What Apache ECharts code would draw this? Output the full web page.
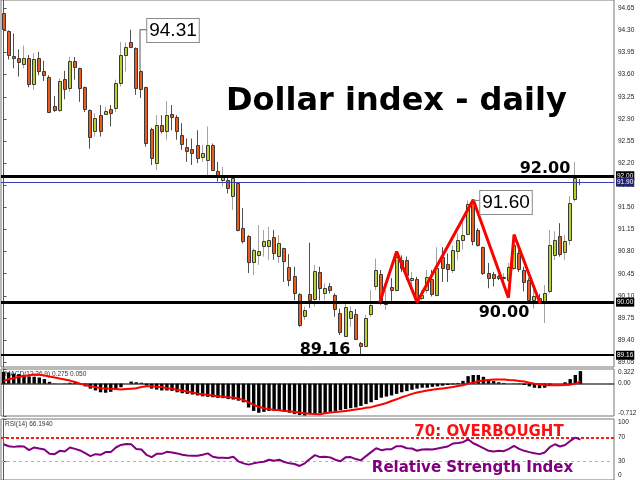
<!DOCTYPE html>
<html><head><meta charset="utf-8">
<script src="https://cdn.jsdelivr.net/npm/echarts@6/dist/echarts.min.js"></script>
<style>html,body{margin:0;padding:0;background:#fff}#c{width:640px;height:480px}</style>
</head><body><div id="c"></div>
<script>
// [open, close, low, high]
const CANDLES = [
[94.57,94.32,94.18,94.59],[94.29,93.91,93.84,94.30],[93.90,93.87,93.70,94.25],[93.86,93.80,93.57,94.00],
[93.77,93.87,93.70,94.06],[93.87,93.46,93.40,93.91],[93.44,93.84,93.36,93.94],[93.86,93.66,93.59,93.96],
[93.66,93.59,93.50,93.82],[93.56,93.00,92.99,93.59],[93.10,93.03,93.01,93.26],[93.04,93.50,93.01,93.54],
[93.53,93.37,93.21,93.66],[93.40,93.82,93.33,93.88],[93.82,93.73,93.52,93.88],[93.70,93.38,93.17,93.71],
[93.40,93.05,93.01,93.41],[93.04,92.61,92.43,93.05],[92.71,92.91,92.62,92.99],[92.96,92.71,92.62,93.12],
[92.99,93.03,92.96,93.09],[93.06,93.00,92.78,93.12],[93.08,93.47,93.01,93.52],[93.46,93.91,93.41,94.12],
[93.90,94.03,93.65,94.11],[94.12,94.04,94.02,94.31],[94.02,93.38,93.28,94.03],[93.66,93.38,93.23,93.67],
[93.40,92.51,92.46,93.41],[92.74,92.28,92.17,92.76],[92.20,92.80,92.09,92.96],[92.80,92.70,92.67,92.96],
[92.70,92.96,92.57,93.18],[92.97,92.93,92.72,93.12],[92.93,92.71,92.57,92.96],[92.65,92.51,92.41,92.83],
[92.46,92.40,92.22,92.59],[92.43,92.37,92.17,92.59],[92.49,92.29,92.20,92.72],[92.29,92.36,92.22,92.49],
[92.25,92.49,92.01,92.78],[92.49,92.09,92.09,92.51],[92.08,92.00,91.91,92.22],[91.92,91.99,91.83,92.14],
[91.93,91.80,91.72,91.99],[91.67,91.96,91.46,91.99],[91.88,91.14,91.12,91.89],[91.17,90.97,90.93,91.49],
[91.05,90.64,90.46,91.06],[90.64,90.83,90.43,90.85],[90.75,90.81,90.59,91.22],[90.88,90.96,90.72,91.14],
[90.89,90.99,90.67,91.19],[91.03,90.77,90.67,91.14],[90.72,90.93,90.62,91.06],[90.85,90.64,90.32,90.86],
[90.56,90.35,90.25,90.76],[90.41,90.14,90.03,90.56],[90.13,89.64,89.61,90.14],[89.78,89.87,89.72,89.93],
[90.13,90.03,89.91,90.94],[90.05,90.50,89.93,90.59],[90.48,90.23,90.03,90.56],[90.15,90.23,90.03,90.30],
[90.25,90.19,90.14,90.30],[90.12,89.90,89.77,90.14],[89.83,89.53,89.48,89.90],[89.46,89.92,89.45,89.98],
[89.75,89.86,89.61,89.93],[89.82,89.43,89.40,89.89],[89.35,89.31,89.16,89.37],[89.31,89.75,89.30,89.80],
[89.82,89.96,89.77,90.19],[90.25,90.51,90.19,90.69],[90.45,90.01,89.96,90.51],[89.98,90.01,89.88,90.19],
[90.24,90.19,90.01,90.38],[90.18,90.71,90.17,90.77],[90.66,90.54,90.48,90.74],[90.66,90.43,90.35,90.72],
[90.36,90.39,90.19,90.48],[90.36,90.03,90.01,90.40],[90.06,90.11,90.03,90.19],[90.19,90.40,90.14,90.51],
[90.36,90.13,90.09,90.51],[90.11,90.54,90.09,90.87],[90.72,90.54,90.32,90.87],[90.60,90.52,90.32,90.77],
[90.52,90.83,90.46,90.90],[90.80,90.98,90.67,91.09],[90.98,91.06,90.83,91.30],[91.09,91.56,91.06,91.61],
[91.59,90.98,90.90,91.61],[91.14,90.90,90.88,91.17],[90.87,90.46,90.43,90.88],[90.46,90.38,90.22,90.62],
[90.44,90.38,90.25,90.48],[90.41,90.38,90.35,90.43],[90.38,90.40,90.27,90.46],[90.35,90.56,90.32,90.62],
[90.54,90.90,90.51,90.98],[90.77,90.51,90.48,90.83],[90.51,90.32,90.17,90.56],[90.35,90.03,90.01,90.38],
[90.03,90.09,89.90,90.22],[90.07,90.03,89.97,90.13],[90.01,90.14,89.67,90.27],[90.17,90.90,90.14,91.14],
[90.75,90.98,90.67,91.12],[91.05,90.77,90.72,91.25],[90.78,90.96,90.67,91.06],[90.98,91.57,90.90,91.68],
[91.63,91.96,91.59,92.22],[91.90,91.90,91.85,91.95]
];
const MACD_HIST = [
0.26,0.245,0.22,0.21,0.185,0.16,0.15,0.135,0.1,0.04,0.005,0.0,0.005,0.02,0.02,-0.01,-0.06,-0.11,-0.15,-0.19,
-0.2,-0.18,-0.14,-0.08,0.0,0.045,0.03,0.02,-0.04,-0.11,-0.13,-0.15,-0.15,-0.16,-0.19,-0.21,-0.225,-0.24,-0.26,-0.28,
-0.29,-0.3,-0.315,-0.32,-0.34,-0.35,-0.375,-0.41,-0.525,-0.6,-0.64,-0.62,-0.6,-0.6,-0.6,-0.62,-0.64,-0.67,-0.69,-0.7,
-0.67,-0.66,-0.65,-0.65,-0.62,-0.6,-0.585,-0.56,-0.54,-0.525,-0.49,-0.45,-0.41,-0.36,-0.31,-0.285,-0.26,-0.225,-0.19,-0.165,
-0.135,-0.11,-0.09,-0.09,-0.07,-0.06,-0.045,-0.03,-0.015,0.015,0.06,0.165,0.19,0.19,0.15,0.1,0.06,0.03,0.015,0.0,
-0.005,-0.01,-0.03,-0.06,-0.09,-0.1,-0.09,-0.04,0.0,0.0,0.03,0.1,0.19,0.275
];
const MACD_SIGNAL = [
0.06,0.097,0.12,0.15,0.17,0.187,0.2,0.195,0.18,0.157,0.135,0.112,0.09,0.067,0.036,0.0,-0.03,-0.06,-0.076,-0.1,
-0.105,-0.11,-0.12,-0.13,-0.12,-0.11,-0.1,-0.076,-0.06,-0.06,-0.07,-0.076,-0.1,-0.11,-0.135,-0.157,-0.173,-0.195,-0.22,-0.233,
-0.248,-0.263,-0.278,-0.285,-0.3,-0.307,-0.33,-0.36,-0.413,-0.465,-0.51,-0.54,-0.562,-0.577,-0.585,-0.6,-0.607,-0.622,-0.637,-0.652,
-0.66,-0.667,-0.674,-0.652,-0.637,-0.622,-0.615,-0.6,-0.585,-0.57,-0.555,-0.532,-0.517,-0.487,-0.457,-0.427,-0.382,-0.345,-0.3,-0.263,
-0.225,-0.195,-0.173,-0.15,-0.135,-0.12,-0.105,-0.09,-0.076,-0.052,-0.037,0.0,0.022,0.052,0.067,0.082,0.09,0.09,0.09,0.082,
0.075,0.06,0.045,0.022,0.0,-0.015,-0.03,-0.037,-0.037,-0.037,-0.03,-0.022,0.0,0.05
];
const RSI = [
58.6,55.4,54.3,55.4,54.9,48.9,53.3,51.6,50.0,42.9,42.4,47.8,46.8,53.3,51.0,48.4,44.0,39.2,42.4,41.3,
45.7,45.7,53.3,57.5,59.1,58.6,51.0,50.0,41.3,37.6,42.9,42.9,46.2,45.2,43.6,41.3,40.3,39.7,39.7,41.3,
43.6,38.1,36.4,36.4,36.0,38.1,30.6,27.3,25.2,27.3,28.9,29.9,33.2,31.6,33.2,29.5,27.3,26.2,23.0,27.3,
34.3,40.8,37.6,38.1,37.1,33.2,30.6,37.1,37.6,34.3,32.2,39.2,45.7,52.1,48.9,50.5,50.5,55.4,55.4,52.1,
51.6,48.0,50.0,50.5,50.0,51.6,53.3,54.9,59.8,60.7,61.9,66.7,60.2,56.5,52.1,47.8,46.8,47.8,47.3,51.0,
55.9,51.0,47.8,45.7,44.0,42.4,45.2,53.8,58.6,54.9,57.5,64.0,69.5,66.2
];
const PRICE_TICKS = [89.05,89.40,89.75,90.10,90.45,90.80,91.15,91.50,91.85,92.20,92.55,92.90,93.25,93.60,93.95,94.30,94.65];
const MACD_TICKS = [-0.712, 0, 0.322];
const RSI_TICKS = [0, 30, 70, 100];
const SUPPORT_LEVELS = [92.00, 90.00];
const LOW_LEVEL = 89.16;
const CURRENT_PRICE = 91.90;
const RSI_OVERBOUGHT = 70, RSI_OVERSOLD = 30;
// zigzag pattern (bar index, price)
const ZIGZAG = [[73.7,90.00],[77.0,90.80],[81.0,90.00],[92.0,91.62],[98.9,90.07],[100.0,91.07],[105.1,89.98]];
const CALLOUT_HIGH = [[26.73,93.67],[26.73,94.31],[28.16,94.31]];
const CALLOUT_MID = [[92.0,91.61],[93.5,91.61]];

const X_MIN = -0.5, X_MAX = 119.58;
const FONT_AX = 'Liberation Sans';
const BOLD = 'DejaVu Sans';

function renderCandle(params, api) {
  const i = api.value(0), o = api.value(1), c = api.value(2), l = api.value(3), h = api.value(4);
  const po = api.coord([i, o]), pc = api.coord([i, c]), pl = api.coord([i, l]), ph = api.coord([i, h]);
  const cx = Math.round(po[0]);
  const up = c > o, doji = c === o;
  const top = Math.min(po[1], pc[1]), bot = Math.max(po[1], pc[1]);
  const children = [{
    type: 'line',
    shape: {x1: cx - 0.5, y1: ph[1], x2: cx - 0.5, y2: pl[1]},
    style: {stroke: up ? '#a3a3a3' : '#505050', lineWidth: 1}
  }];
  if (doji) {
    children.push({type: 'line', shape: {x1: cx - 2, y1: Math.round(top) + 0.5, x2: cx + 2, y2: Math.round(top) + 0.5},
      style: {stroke: '#505050', lineWidth: 1}});
  } else {
    children.push({type: 'rect', shape: {x: cx - 1.5, y: Math.round(top) + 0.5, width: 3, height: Math.max(Math.round(bot - top), 1)},
      style: {fill: up ? '#b8d02c' : '#ee5a1a', stroke: '#3a3a3a', lineWidth: 1}});
  }
  return {type: 'group', children};
}

function edgeFmt(min, max, fmt) {
  return function (v) {
    if (Math.abs(v - max) < 1e-9) return '{t|' + fmt(v) + '}';
    if (Math.abs(v - min) < 1e-9) return '{b|' + fmt(v) + '}';
    return fmt(v);
  };
}

const chart = echarts.init(document.getElementById('c'), null, {renderer: 'canvas'});
const axLabel = {fontSize: 6.5, fontFamily: FONT_AX, color: '#222', margin: 4};
const hiddenX = (gi) => ({type: 'value', gridIndex: gi, min: X_MIN, max: X_MAX, show: false});

chart.setOption({
  animation: false,
  backgroundColor: '#fff',
  grid: [
    {left: 1, top: 0, width: 613, height: 367, show: true, borderColor: '#777', borderWidth: 1},
    {left: 1, top: 369, width: 613, height: 47, show: true, borderColor: '#777', borderWidth: 1},
    {left: 1, top: 419, width: 613, height: 63, show: true, borderColor: '#777', borderWidth: 1}
  ],
  xAxis: [hiddenX(0), hiddenX(1), hiddenX(2)],
  yAxis: [
    {type: 'value', gridIndex: 0, position: 'right', min: 88.974, max: 94.781,
      axisLine: {show: true, lineStyle: {color: '#555'}},
      axisTick: {show: true, length: 3, customValues: PRICE_TICKS, lineStyle: {color: '#555'}},
      axisLabel: Object.assign({}, axLabel, {customValues: PRICE_TICKS, formatter: v => v.toFixed(2)}),
      splitLine: {show: false}},
    {type: 'value', gridIndex: 1, position: 'right', min: MACD_TICKS[0], max: MACD_TICKS[2],
      axisLine: {show: true, lineStyle: {color: '#555'}},
      axisTick: {show: true, length: 3, customValues: MACD_TICKS, lineStyle: {color: '#555'}},
      axisLabel: Object.assign({}, axLabel, {customValues: MACD_TICKS,
        formatter: edgeFmt(MACD_TICKS[0], MACD_TICKS[2], v => v === 0 ? '0.00' : String(v)),
        rich: {t: {padding: [7, 0, 0, 0]}, b: {padding: [0, 0, 5, 0]}}}),
      splitLine: {show: false}},
    {type: 'value', gridIndex: 2, position: 'right', min: 0, max: 100,
      axisLine: {show: true, lineStyle: {color: '#555'}},
      axisTick: {show: true, length: 3, customValues: RSI_TICKS, lineStyle: {color: '#555'}},
      axisLabel: Object.assign({}, axLabel, {customValues: RSI_TICKS,
        formatter: edgeFmt(0, 100, v => String(v)),
        rich: {t: {padding: [6, 0, 0, 0]}, b: {padding: [0, 0, 9, 0]}}}),
      splitLine: {show: false}}
  ],
  series: [
    {type: 'custom', name: 'price', xAxisIndex: 0, yAxisIndex: 0, z: 2,
      data: CANDLES.map((c, i) => [i, c[0], c[1], c[2], c[3]]),
      encode: {x: 0, y: [1, 2, 3, 4]},
      renderItem: renderCandle,
      markLine: {
        silent: true, symbol: 'none', z: 5,
        data: [
          ...SUPPORT_LEVELS.map(v => ({yAxis: v, lineStyle: {color: '#000', width: 3, type: 'solid'},
            label: {backgroundColor: '#000'}})),
          {yAxis: LOW_LEVEL, lineStyle: {color: '#000', width: 2, type: 'solid'}, label: {backgroundColor: '#000'}},
          {yAxis: CURRENT_PRICE, lineStyle: {color: '#3a3ab4', width: 1, type: 'solid'}, label: {backgroundColor: '#22226e'}}
        ],
        label: {show: true, position: 'end', distance: 2, formatter: p => Number(p.value).toFixed(2),
          color: '#fff', fontSize: 6.5, fontFamily: FONT_AX, padding: [1, 1, 1, 1]}
      }},
    {type: 'line', name: 'pattern', xAxisIndex: 0, yAxisIndex: 0, z: 6, data: ZIGZAG,
      showSymbol: false, lineStyle: {color: '#ff0000', width: 3}},
    {type: 'line', name: 'callout1', xAxisIndex: 0, yAxisIndex: 0, z: 6, data: CALLOUT_HIGH,
      showSymbol: false, lineStyle: {color: '#555', width: 1}},
    {type: 'line', name: 'callout2', xAxisIndex: 0, yAxisIndex: 0, z: 6, data: CALLOUT_MID,
      showSymbol: false, lineStyle: {color: '#777', width: 1}},
    {type: 'bar', name: 'MACD', xAxisIndex: 1, yAxisIndex: 1, z: 3,
      data: MACD_HIST.map((v, i) => [i, v]), barWidth: 3.4, itemStyle: {color: '#000'},
      markLine: {silent: true, symbol: 'none', z: 2, label: {show: false},
        data: [{yAxis: 0}], lineStyle: {color: '#444', width: 1.5, type: 'solid'}}},
    {type: 'line', name: 'Signal', xAxisIndex: 1, yAxisIndex: 1, z: 4,
      data: MACD_SIGNAL.map((v, i) => [i, v]), showSymbol: false, lineStyle: {color: '#ff0000', width: 2}},
    {type: 'line', name: 'RSI', xAxisIndex: 2, yAxisIndex: 2, z: 4,
      data: RSI.map((v, i) => [i, v]), showSymbol: false, lineStyle: {color: '#800080', width: 2},
      markLine: {silent: true, symbol: 'none', z: 3, label: {show: false},
        data: [
          {yAxis: RSI_OVERBOUGHT, lineStyle: {color: '#ff1a1a', width: 2, type: [3, 2]}},
          {yAxis: RSI_OVERSOLD, lineStyle: {color: '#b5b5b5', width: 1, type: [3, 3]}}
        ]}}
  ],
  graphic: [
    {type: 'text', x: 5, y: 374, z: 0, style: {text: 'MACD(12,26,9) 0.275 0.050', font: '6.5px "Liberation Sans"', fill: '#333', verticalAlign: 'middle'}},
    {type: 'text', x: 5, y: 424, z: 0, style: {text: 'RSI(14) 66.1940', font: '6.5px "Liberation Sans"', fill: '#333', verticalAlign: 'middle'}},
    {type: 'text', x: 226, y: 102, z: 100, style: {text: 'Dollar index - daily', font: 'bold 32px "DejaVu Sans"', fill: '#000', verticalAlign: 'middle'}},
    {type: 'text', x: 545, y: 168.5, z: 100, style: {text: '92.00', font: 'bold 16px "DejaVu Sans"', fill: '#000', align: 'center', verticalAlign: 'middle'}},
    {type: 'text', x: 504, y: 313, z: 100, style: {text: '90.00', font: 'bold 16px "DejaVu Sans"', fill: '#000', align: 'center', verticalAlign: 'middle'}},
    {type: 'text', x: 325, y: 350, z: 100, style: {text: '89.16', font: 'bold 16px "DejaVu Sans"', fill: '#000', align: 'center', verticalAlign: 'middle'}},
    {type: 'text', x: 173, y: 30.5, z: 100, style: {text: '94.31', font: '19px "Liberation Sans"', fill: '#000', align: 'center', verticalAlign: 'middle',
      backgroundColor: '#fff', borderColor: '#8a8a8a', borderWidth: 1, padding: [2, 2, 2, 2]}},
    {type: 'text', x: 506, y: 202.5, z: 100, style: {text: '91.60', font: '19px "Liberation Sans"', fill: '#000', align: 'center', verticalAlign: 'middle',
      backgroundColor: '#fff', borderColor: '#8a8a8a', borderWidth: 1, padding: [2, 2, 2, 2]}},
    {type: 'text', x: 489, y: 432.5, z: 100, style: {text: '70: OVERBOUGHT', font: 'bold 15px "DejaVu Sans"', fill: '#ff1010', align: 'center', verticalAlign: 'middle'}},
    {type: 'text', x: 472.5, y: 468, z: 100, style: {text: 'Relative Strength Index', font: 'bold 15px "DejaVu Sans"', fill: '#800080', align: 'center', verticalAlign: 'middle'}}
  ]
});
</script></body></html>
